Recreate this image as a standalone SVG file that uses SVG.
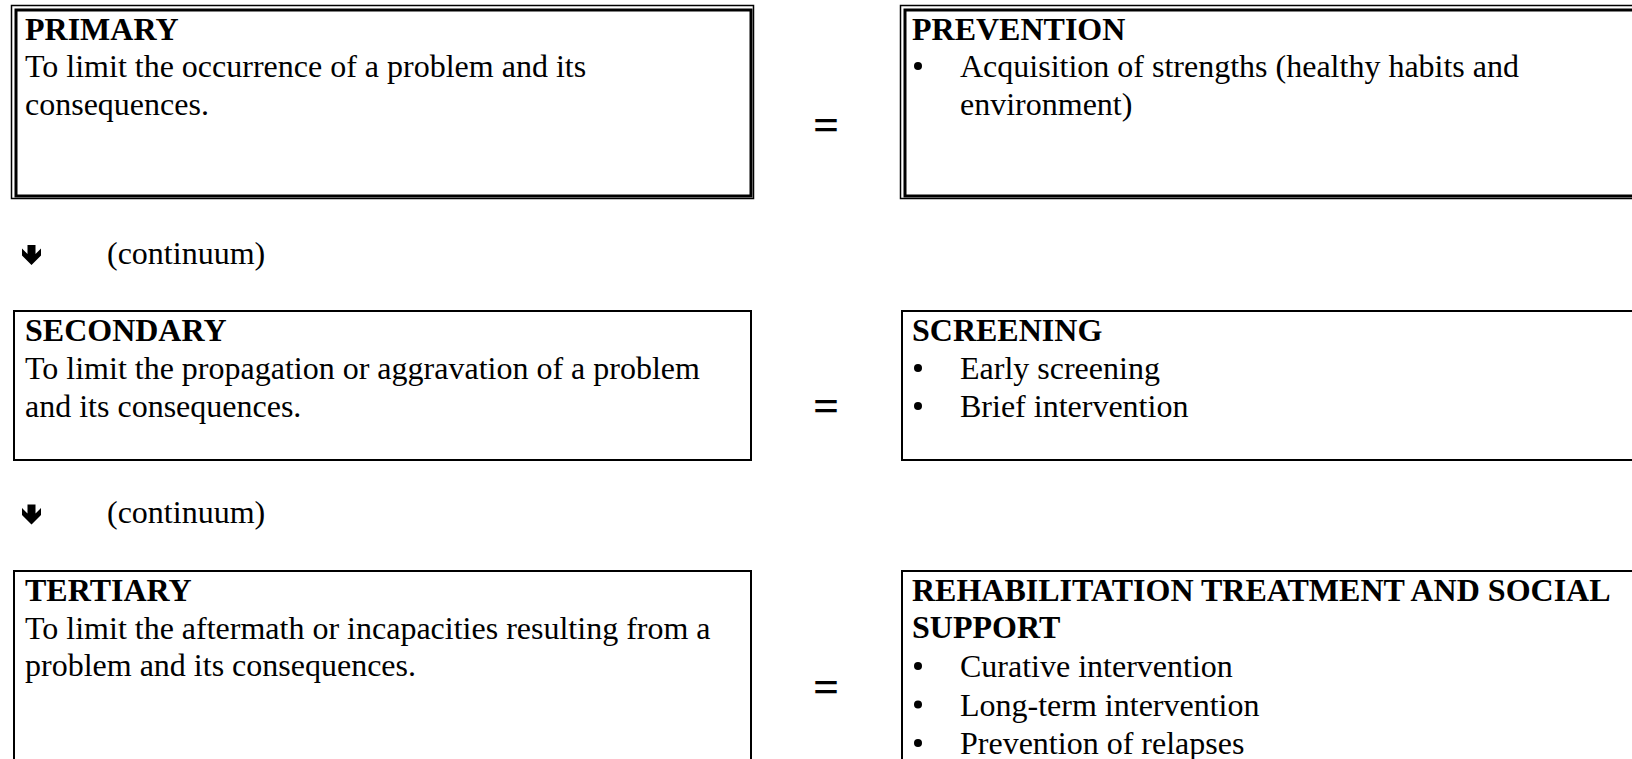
<svg xmlns="http://www.w3.org/2000/svg" width="1632" height="759" viewBox="0 0 1632 759">
<style>
  .t { font-family: "Liberation Serif", "Times New Roman", serif; font-size: 32px; fill: #000; }
  .b { font-weight: bold; }
  .eq { font-family: "Liberation Serif", "Times New Roman", serif; font-size: 46px; font-weight: bold; fill: #000; text-anchor: middle; }
  .thin { fill: none; stroke: #000; stroke-width: 1.5; }
  .thick { fill: none; stroke: #000; stroke-width: 3; }
  .box { fill: none; stroke: #000; stroke-width: 2; }
  .dot { fill: #000; }
</style>
<defs>
  <path id="darrow" d="M -4 0 H 4 V 9 L 9.5 3.5 V 10.5 L 0 20 L -9.5 10.5 V 3.5 L -4 9 Z" fill="#000"/>
</defs>
<rect width="1632" height="759" fill="#fff"/>

<g id="primary">
  <rect class="thin" x="11.5" y="5.5" width="742" height="193"/>
  <rect class="thick" x="16" y="10" width="735" height="186"/>
  <text class="t b" x="25" y="39.5">PRIMARY</text>
  <text class="t" x="25" y="77">To limit the occurrence of a problem and its</text>
  <text class="t" x="25" y="114.5">consequences.</text>
</g>

<g id="prevention">
  <rect class="thin" x="900.5" y="5.5" width="760" height="193"/>
  <rect class="thick" x="905" y="10" width="760" height="186"/>
  <text class="t b" x="912" y="39.5">PREVENTION</text>
  <circle class="dot" cx="918" cy="66" r="4"/>
  <text class="t" x="960" y="77">Acquisition of strengths (healthy habits and</text>
  <text class="t" x="960" y="114.5">environment)</text>
</g>

<g id="secondary">
  <rect class="box" x="14" y="311" width="737" height="149"/>
  <text class="t b" x="25" y="341">SECONDARY</text>
  <text class="t" x="25" y="379">To limit the propagation or aggravation of a problem</text>
  <text class="t" x="25" y="417">and its consequences.</text>
</g>

<g id="screening">
  <rect class="box" x="902" y="311" width="760" height="149"/>
  <text class="t b" x="912" y="341">SCREENING</text>
  <circle class="dot" cx="918" cy="368" r="4"/>
  <text class="t" x="960" y="379">Early screening</text>
  <circle class="dot" cx="918" cy="406" r="4"/>
  <text class="t" x="960" y="417">Brief intervention</text>
</g>

<g id="tertiary">
  <rect class="box" x="14" y="571" width="737" height="200"/>
  <text class="t b" x="25" y="600.5">TERTIARY</text>
  <text class="t" x="25" y="638.5">To limit the aftermath or incapacities resulting from a</text>
  <text class="t" x="25" y="676">problem and its consequences.</text>
</g>

<g id="rehabilitation">
  <rect class="box" x="902" y="571" width="760" height="200"/>
  <text class="t b" x="912" y="600.5">REHABILITATION TREATMENT AND SOCIAL</text>
  <text class="t b" x="912" y="638">SUPPORT</text>
  <circle class="dot" cx="918" cy="666" r="4"/>
  <text class="t" x="960" y="677">Curative intervention</text>
  <circle class="dot" cx="918" cy="704.5" r="4"/>
  <text class="t" x="960" y="715.5">Long-term intervention</text>
  <circle class="dot" cx="918" cy="743" r="4"/>
  <text class="t" x="960" y="754">Prevention of relapses</text>
</g>

<g id="connectors">
  <text class="eq" x="826" y="140">=</text>
  <text class="eq" x="826" y="421">=</text>
  <text class="eq" x="826" y="702">=</text>
  <use href="#darrow" x="31.5" y="245"/>
  <text class="t" x="107" y="264">(continuum)</text>
  <use href="#darrow" x="31.5" y="504.5"/>
  <text class="t" x="107" y="523">(continuum)</text>
</g>
</svg>
